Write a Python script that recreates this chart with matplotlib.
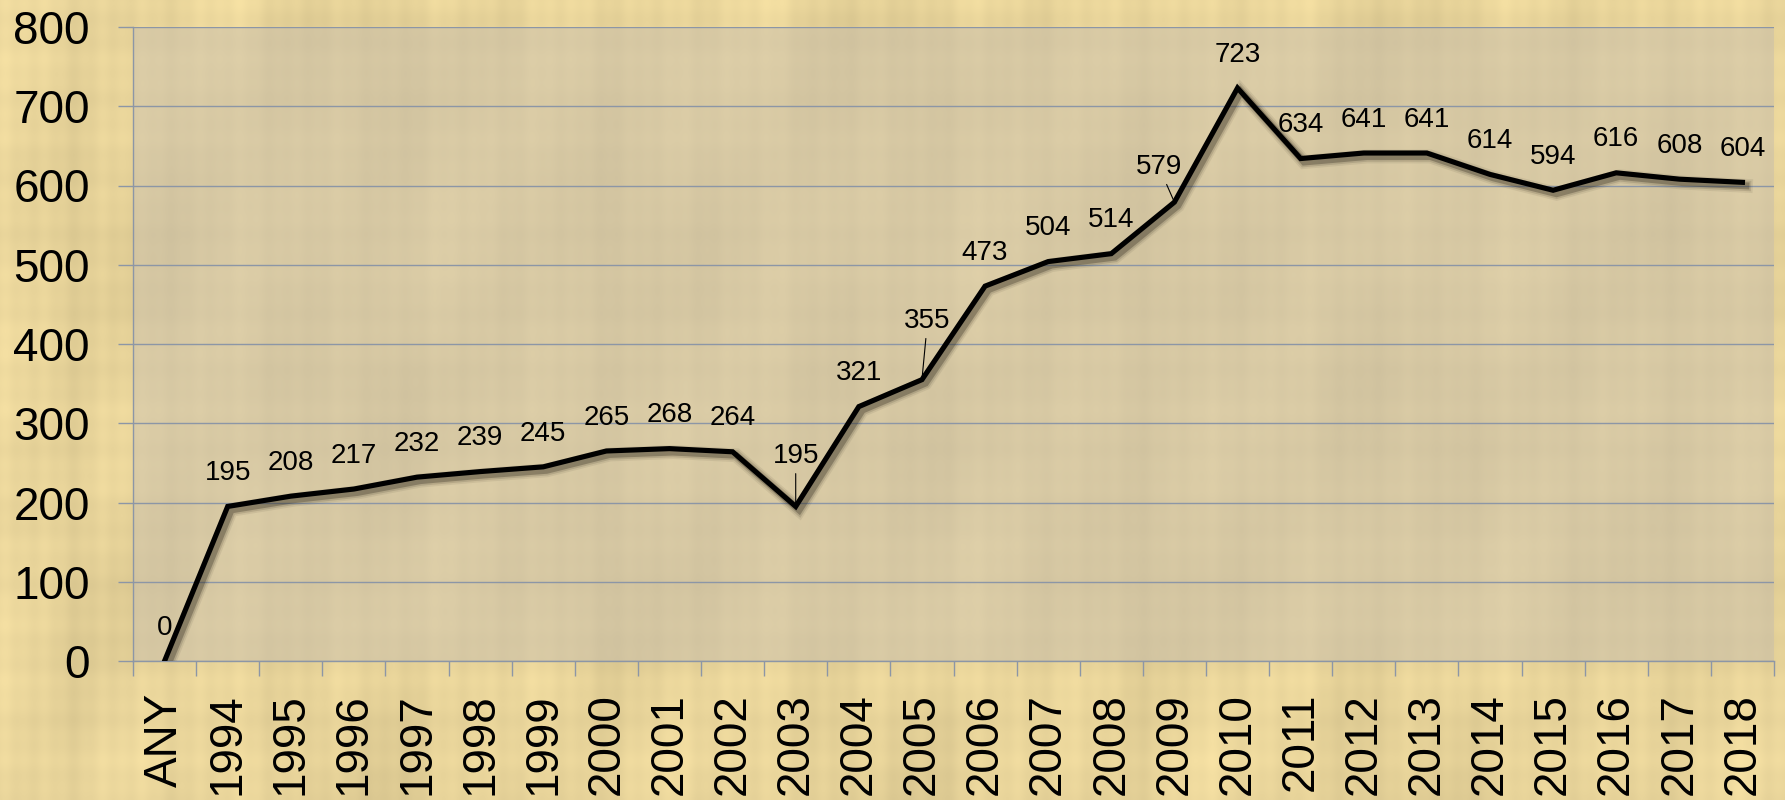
import numpy as np
import matplotlib
matplotlib.use('Agg')
import matplotlib.pyplot as plt
import matplotlib.patheffects as pe

years = ['ANY', '1994', '1995', '1996', '1997', '1998', '1999', '2000', '2001',
         '2002', '2003', '2004', '2005', '2006', '2007', '2008', '2009', '2010',
         '2011', '2012', '2013', '2014', '2015', '2016', '2017', '2018']
values = [0, 195, 208, 217, 232, 239, 245, 265, 268, 264, 195, 321, 355, 473,
          504, 514, 579, 723, 634, 641, 641, 614, 594, 616, 608, 604]

# labels that sit away from the default spot (offset in points, leader line)
label_moves = {'2003': (0, 36, True), '2005': (4, 42, True), '2009': (-11, 25, True)}

plt.rcParams['font.family'] = ['Liberation Sans', 'DejaVu Sans']

W, H = 1785, 800
fig = plt.figure(figsize=(W / 100, H / 100), dpi=100)

# papyrus-like background made of fixed sine fibres
xs = np.arange(W)[None, :]
ys = np.arange(H)[:, None]
tex = (0.008 * np.sin(xs / 3.1) + 0.010 * np.sin(xs / 7.7 + 1.3)
       + 0.012 * np.sin(xs / 17.0 + 0.4) + 0.012 * np.sin(xs / 41.0 + 2.2)
       + 0.006 * np.sin(ys / 4.3 + 0.7) + 0.008 * np.sin(ys / 11.0 + 1.9)
       + 0.020 * np.sin(xs / 83.0) * np.sin(ys / 57.0 + 0.5)
       + 0.012 * np.sin(xs / 29.0 + ys / 47.0))
base = np.array([232, 212, 154]) / 255.0
img = np.clip(base[None, None, :] * (1 + tex[:, :, None]), 0, 1)
bg = fig.add_axes([0, 0, 1, 1], zorder=-10)
bg.imshow(img, aspect='auto', interpolation='bilinear')
bg.axis('off')

ax = fig.add_axes([133 / W, 1 - 661 / H, (1774 - 133) / W, (661 - 27) / H])
ax.set_facecolor((0.78, 0.745, 0.68, 0.5))

# soft drop shadow built from a few widening layers
shadow = [pe.SimpleLineShadow(offset=(2.5, -2.5), shadow_color='#2a2418', alpha=a, linewidth=w)
          for w, a in [(10, 0.08), (7.5, 0.14), (5, 0.3)]]

x = np.arange(len(years))
ax.plot(x, values, color='black', lw=3.7, solid_joinstyle='miter', zorder=3,
        path_effects=shadow + [pe.Normal()])

for i, (yr, v) in enumerate(zip(years, values)):
    dx, dy, lead = label_moves.get(yr, (0, 24, False))
    arrow = dict(arrowstyle='-', color='black', lw=0.8, shrinkA=1, shrinkB=1) if lead else None
    ax.annotate(str(v), (i, v), xytext=(dx, dy), textcoords='offset points',
                ha='center', va='center', fontsize=20, color='black',
                arrowprops=arrow, zorder=4)

ax.set_xlim(-0.5, len(years) - 0.5)
ax.set_ylim(0, 800)
ax.set_yticks(np.arange(0, 801, 100))
ax.yaxis.grid(True, color='#8c96a6', lw=1.0)
ax.set_axisbelow(True)

ax.set_xticks(x)
ax.set_xticklabels(years, rotation=90, fontsize=33)
ax.set_xticks(np.arange(-0.5, len(years)), minor=True)
ax.tick_params(axis='x', which='major', length=0, pad=23)
ax.tick_params(axis='x', which='minor', length=11, color='#8c96a6', width=1, direction='out')
ax.tick_params(axis='y', length=11, color='#8c96a6', width=1, direction='out',
               labelsize=33, pad=20)

for s in ['top', 'right']:
    ax.spines[s].set_visible(False)
for s in ['left', 'bottom']:
    ax.spines[s].set_color('#8c96a6')
    ax.spines[s].set_linewidth(1)

fig.savefig('out.png', dpi=100)
